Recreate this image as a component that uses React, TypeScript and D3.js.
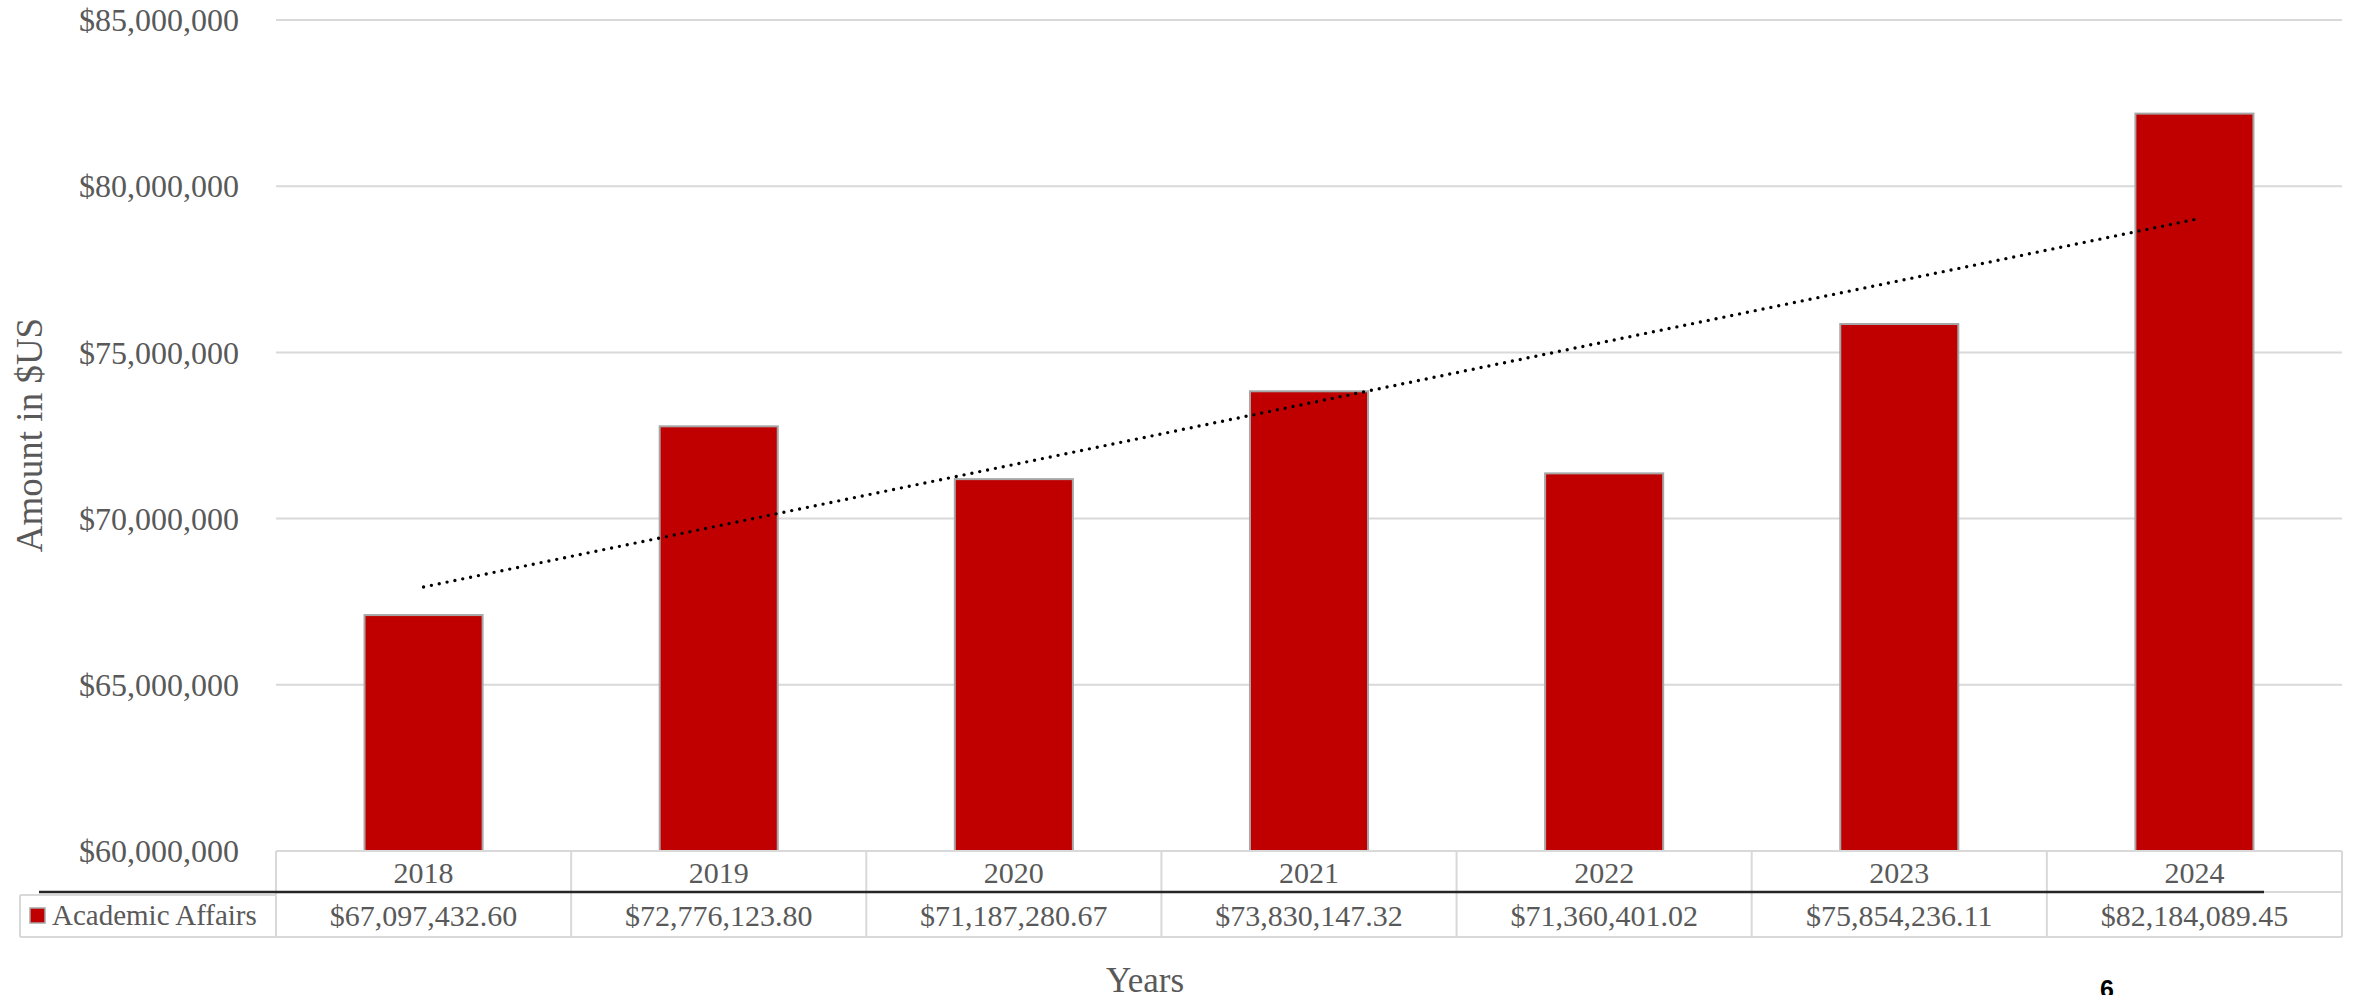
import React from "react";
import * as d3 from "d3";

const years = ["2018", "2019", "2020", "2021", "2022", "2023", "2024"];
const values = [67097432.6, 72776123.8, 71187280.67, 73830147.32, 71360401.02, 75854236.11, 82184089.45];
const valueLabels = ["$67,097,432.60", "$72,776,123.80", "$71,187,280.67", "$73,830,147.32", "$71,360,401.02", "$75,854,236.11", "$82,184,089.45"];
const yTicks = [60000000, 65000000, 70000000, 75000000, 80000000, 85000000];
const seriesName = "Academic Affairs";
const xTitle = "Years";
const yTitle = "Amount in $US";
const pageNumber = "6";

const W = 2354;
const H = 995;
const FONT = "'Liberation Serif', 'Times New Roman', serif";
const TEXT = "#595959";

export default function App() {
  React.useEffect(() => {
    document.body.style.margin = "0";
  }, []);

  const left = 276;
  const right = 2342;
  const top = 20;
  const bottom = 851;

  const y = d3.scaleLinear().domain([60000000, 85000000]).range([bottom, top]);
  const xBar = d3.scaleBand<string>().domain(years).range([left, right]).paddingInner(0.6).paddingOuter(0.3);
  const xCol = d3.scaleBand<string>().domain(years).range([left, right]).padding(0);

  // linear trendline (least squares)
  const n = values.length;
  const xs = values.map((_, i) => i + 1);
  const mx = d3.mean(xs)!;
  const my = d3.mean(values)!;
  const slope = d3.sum(xs.map((x, i) => (x - mx) * (values[i] - my))) / d3.sum(xs.map((x) => (x - mx) ** 2));
  const intercept = my - slope * mx;
  const trendPts: [number, number][] = [1, n].map((x) => [
    xCol(years[x - 1])! + xCol.bandwidth() / 2,
    y(intercept + slope * x),
  ]);
  const trendLine = d3.line()(trendPts)!;

  const fmt = (v: number) => "$" + d3.format(",")(v);

  const yearRowTop = 851;
  const lineY = 892;
  const valRowTop = 895;
  const valRowBottom = 937;
  const legendLeft = 20;

  return (
    <div style={{ position: "absolute", left: 0, top: 0 }}>
      <svg width={W} height={H} style={{ display: "block", background: "#fff" }}>
        {/* gridlines */}
        {yTicks.map((t) => (
          <line key={"g" + t} x1={left} x2={right} y1={y(t)} y2={y(t)} stroke="#D9D9D9" strokeWidth={2} />
        ))}
        {/* y tick labels */}
        {yTicks.map((t) => (
          <text key={"t" + t} x={239} y={y(t)} dy="0.35em" textAnchor="end" fontFamily={FONT} fontSize={32} fill={TEXT}>
            {fmt(t)}
          </text>
        ))}
        {/* bars */}
        {years.map((yr, i) => (
          <rect
            key={yr}
            x={xBar(yr)}
            y={y(values[i])}
            width={xBar.bandwidth()}
            height={bottom - y(values[i])}
            fill="#C00000"
            stroke="#A6A6A6"
            strokeWidth={2}
          />
        ))}
        {/* trendline */}
        <path d={trendLine} fill="none" stroke="#000" strokeWidth={3.4} strokeDasharray="0 8" strokeLinecap="round" />

        {/* data table */}
        <g fill="none" stroke="#D9D9D9" strokeWidth={2}>
          <line x1={left} x2={right} y1={yearRowTop} y2={yearRowTop} />
          <line x1={legendLeft} x2={right} y1={valRowBottom} y2={valRowBottom} />
          <line x1={legendLeft} x2={legendLeft} y1={valRowTop} y2={valRowBottom} />
          <line x1={legendLeft} x2={left} y1={valRowTop} y2={valRowTop} />
          <line x1={right} x2={right} y1={yearRowTop} y2={valRowBottom} />
          <line x1={2264} x2={right} y1={lineY} y2={lineY} />
          {years.map((yr) => (
            <line key={"v" + yr} x1={xCol(yr)} x2={xCol(yr)} y1={yearRowTop} y2={valRowBottom} />
          ))}
        </g>
        <line x1={39} x2={2264} y1={lineY} y2={lineY} stroke="#262626" strokeWidth={2.5} />
        {years.map((yr) => (
          <text
            key={"y" + yr}
            x={xCol(yr)! + xCol.bandwidth() / 2}
            y={872}
            dy="0.35em"
            textAnchor="middle"
            fontFamily={FONT}
            fontSize={30}
            fill={TEXT}
          >
            {yr}
          </text>
        ))}
        {years.map((yr, i) => (
          <text
            key={"val" + yr}
            x={xCol(yr)! + xCol.bandwidth() / 2}
            y={915}
            dy="0.35em"
            textAnchor="middle"
            fontFamily={FONT}
            fontSize={30}
            fill={TEXT}
          >
            {valueLabels[i]}
          </text>
        ))}
        {/* legend key */}
        <rect x={30} y={908} width={15} height={15} fill="#C00000" stroke="#A6A6A6" strokeWidth={1.5} />
        <text x={52} y={915} dy="0.35em" fontFamily={FONT} fontSize={29} fill={TEXT}>
          {seriesName}
        </text>

        {/* axis titles */}
        <text
          transform={`translate(42, 435) rotate(-90)`}
          textAnchor="middle"
          fontFamily={FONT}
          fontSize={37}
          fill={TEXT}
        >
          {yTitle}
        </text>
        <text x={1145} y={992} textAnchor="middle" fontFamily={FONT} fontSize={35} fill={TEXT}>
          {xTitle}
        </text>
        <text x={2107} y={998} textAnchor="middle" fontFamily="'Liberation Sans', Arial, sans-serif" fontWeight="bold" fontSize={25} fill="#000">
          {pageNumber}
        </text>
      </svg>
    </div>
  );
}
